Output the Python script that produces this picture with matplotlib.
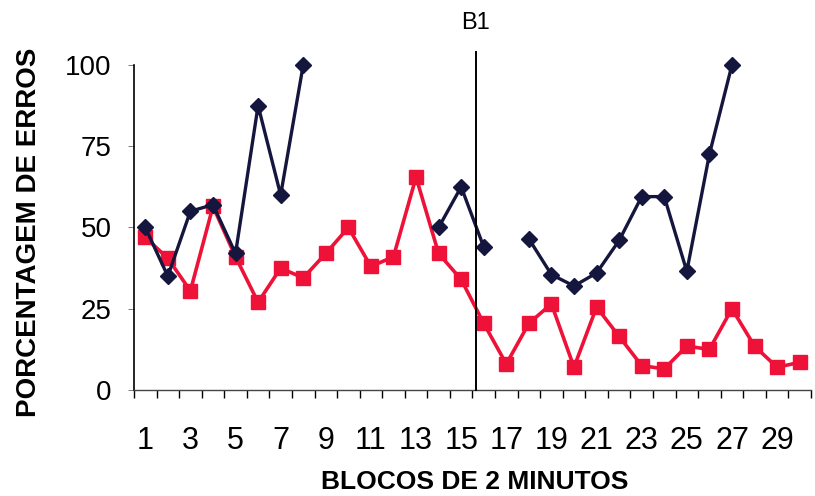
import matplotlib.pyplot as plt
import numpy as np

nan = np.nan

# blocks of 2 minutes
blocos = list(range(1, 31))

# dark series (diamonds), gaps where no data
erros_escuro = [50, 35, 55, 57, 42, 87.5, 60, 100, nan, nan,
                nan, nan, nan, 50, 62.5, 44, nan, 46.5, 35.5, 32,
                36, 46, 59.5, 59.5, 36.5, 72.5, 100, nan, nan, nan]

# red series (squares)
erros_vermelho = [47, 40.5, 30.5, 56.5, 41, 27, 37.5, 34.5, 42, 50,
                  38, 41, 65.5, 42, 34, 20.5, 8, 20.5, 26.5, 7,
                  25.5, 16.5, 7.5, 6.5, 13.5, 12.5, 25, 13.5, 7, 8.5]

y_ticks = [0, 25, 50, 75, 100]
x_ticklabels = [str(b) for b in range(1, 31, 2)]
fase_pos = 15.65
fase_label = 'B1'

plt.rcParams['font.family'] = ['Liberation Sans', 'DejaVu Sans']

fig = plt.figure(figsize=(8.15, 4.96), dpi=100)
ax = fig.add_axes([0.1644, 0.2137, 0.8306, 0.6553])

ax.plot(blocos, erros_vermelho, color='#ee1238', lw=2.6, marker='s',
        ms=10, mec='#ee1238', mfc='#ee1238', zorder=2, clip_on=False)
ax.plot(blocos, erros_escuro, color='#15163d', lw=2.4, marker='D',
        ms=8.5, mec='#15163d', mfc='#15163d', zorder=3, clip_on=False)

ax.axvline(fase_pos, ymin=0, ymax=1.04, color='black', lw=1.4,
           clip_on=False, zorder=4)
ax.text(fase_pos, 113, fase_label, ha='center', va='center', fontsize=17)

ax.set_xlim(0.5, 30.5)
ax.set_ylim(0, 100)
ax.set_yticks(y_ticks)
ax.set_yticklabels([str(v) for v in y_ticks], fontsize=20)
ax.set_xticks(range(1, 31, 2))
ax.set_xticklabels(x_ticklabels, fontsize=22)
ax.set_xticks(np.arange(0.5, 31, 1), minor=True)

ax.tick_params(axis='x', which='major', length=0, pad=26)
ax.tick_params(axis='x', which='minor', length=6, width=1, direction='out')
ax.tick_params(axis='y', length=4, width=0.6, pad=12, color='#666666')

for s in ['top', 'right']:
    ax.spines[s].set_visible(False)
ax.spines['left'].set_linewidth(1.2)
ax.spines['bottom'].set_linewidth(1.0)
ax.spines['bottom'].set_color('#444444')

fig.text(475 / 815, 1 - 482 / 496, 'BLOCOS DE 2 MINUTOS', fontsize=19,
         fontweight='bold', ha='center', va='center')
fig.text(29 / 815, 1 - 232 / 496, 'PORCENTAGEM DE ERROS', fontsize=20,
         fontweight='bold', ha='center', va='center', rotation=90)

fig.savefig('out.png', dpi=100)
